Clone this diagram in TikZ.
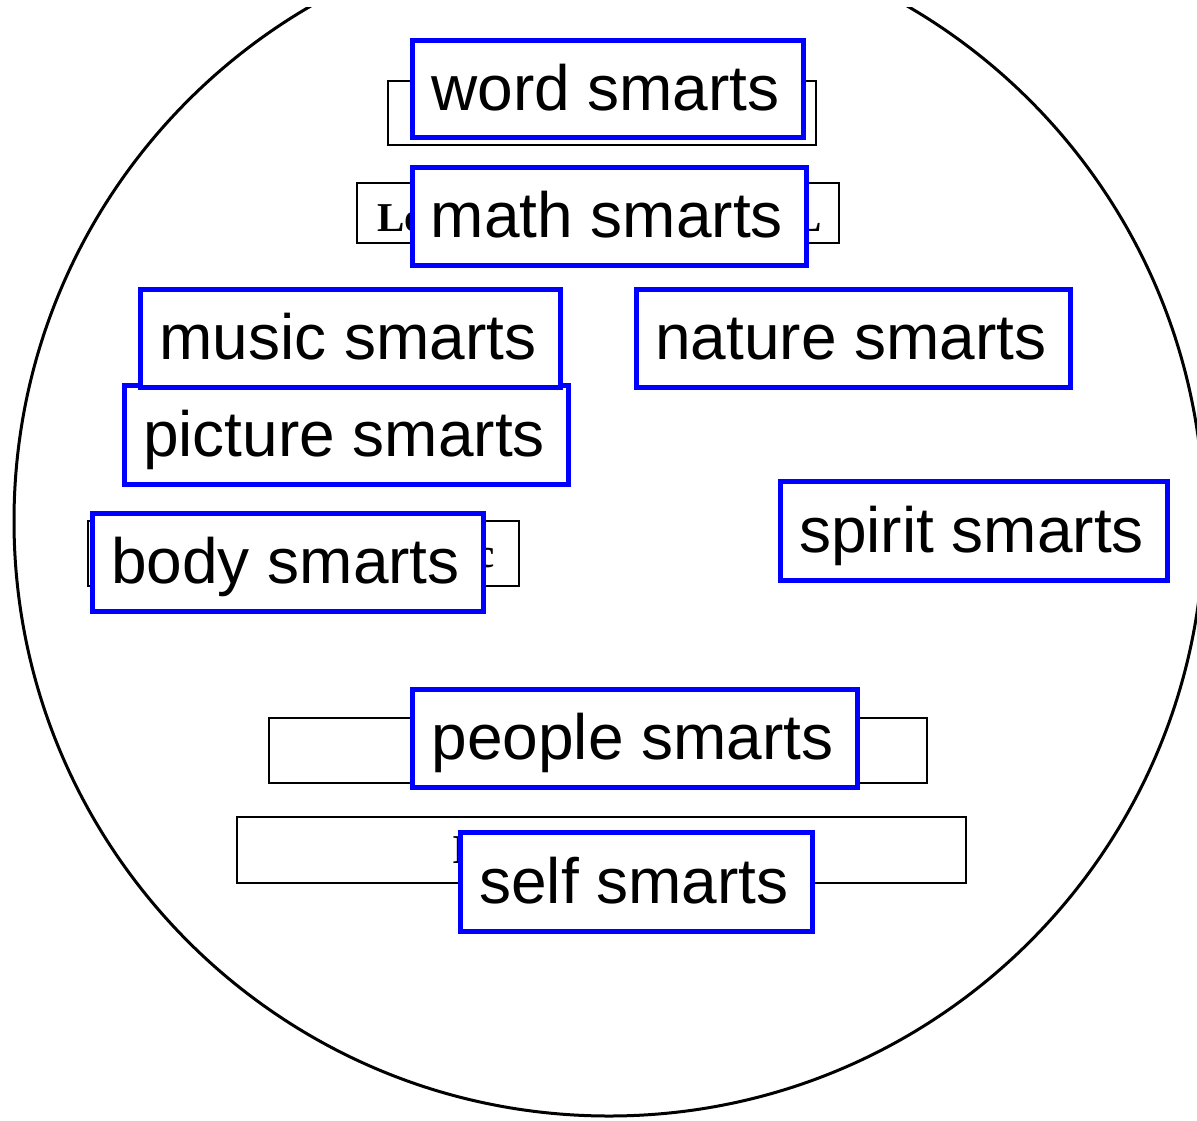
\documentclass[tikz,border=0pt]{standalone}
\usepackage{fontspec}
\setmainfont{Liberation Sans}
\newfontfamily\fragfont{Liberation Serif}
\begin{document}
\begin{tikzpicture}[x=1pt,y=-1pt,
  smart/.style={draw=blue, line width=5pt, fill=white, font=\fontsize{64}{70}\selectfont,
    text height=46pt, text depth=4pt, inner sep=0pt, execute at end node={\hspace*{5pt}}},
  back/.style={draw=black, line width=2pt, fill=white, inner sep=0pt},
  frag/.style={font=\fragfont\bfseries\fontsize{41}{45}\selectfont, inner sep=0pt}]
\useasboundingbox (0,0) rectangle (1197,1120);
\begin{scope}
  \clip (0,7) rectangle (1197,1120);
  \draw[line width=3pt] (609,521) ellipse [x radius=595, y radius=595];
\end{scope}
% background boxes
\node[back, minimum width=428pt, minimum height=64pt] (wordbg) at (602,113) {};
\node[back, minimum width=482pt, minimum height=60pt] (mathbg) at (598,213) {};
\node[back, minimum width=431pt, minimum height=65pt] (bodybg) at (303.5,553.5) {};
\node[back, minimum width=658pt, minimum height=65pt] (peoplebg) at (598,750.5) {};
\node[back, minimum width=729pt, minimum height=66pt] (selfbg) at (601.5,850) {};
% fragments of hidden labels
\node[frag, anchor=base west] (lo) at (377,231) {Lo};
\node[frag, anchor=base east] (al) at (822,231) {L};
\node[frag, anchor=base east] (bc) at (495,567) {c};
\node[frag, anchor=base west] (si) at (452,863) {I};
% blue boxes
\node[smart, minimum width=391pt, minimum height=97pt] (word) at (608,89) {word smarts};
\node[smart, minimum width=394pt, minimum height=98pt] (math) at (609.5,216.5) {math smarts};
\node[smart, minimum width=444pt, minimum height=99pt] (picture) at (346.5,435) {picture smarts};
\node[smart, minimum width=420pt, minimum height=98pt] (music) at (350.5,338.5) {music smarts};
\node[smart, minimum width=434pt, minimum height=98pt] (nature) at (853.5,338.5) {nature smarts};
\node[smart, minimum width=387pt, minimum height=99pt] (spirit) at (974,531) {spirit smarts};
\node[smart, minimum width=391pt, minimum height=98pt] (body) at (288,562.5) {body smarts};
\node[smart, minimum width=445pt, minimum height=98pt] (people) at (635,738.5) {people smarts};
\node[smart, minimum width=352pt, minimum height=99pt] (self) at (636.5,882) {self smarts};
\end{tikzpicture}
\end{document}
